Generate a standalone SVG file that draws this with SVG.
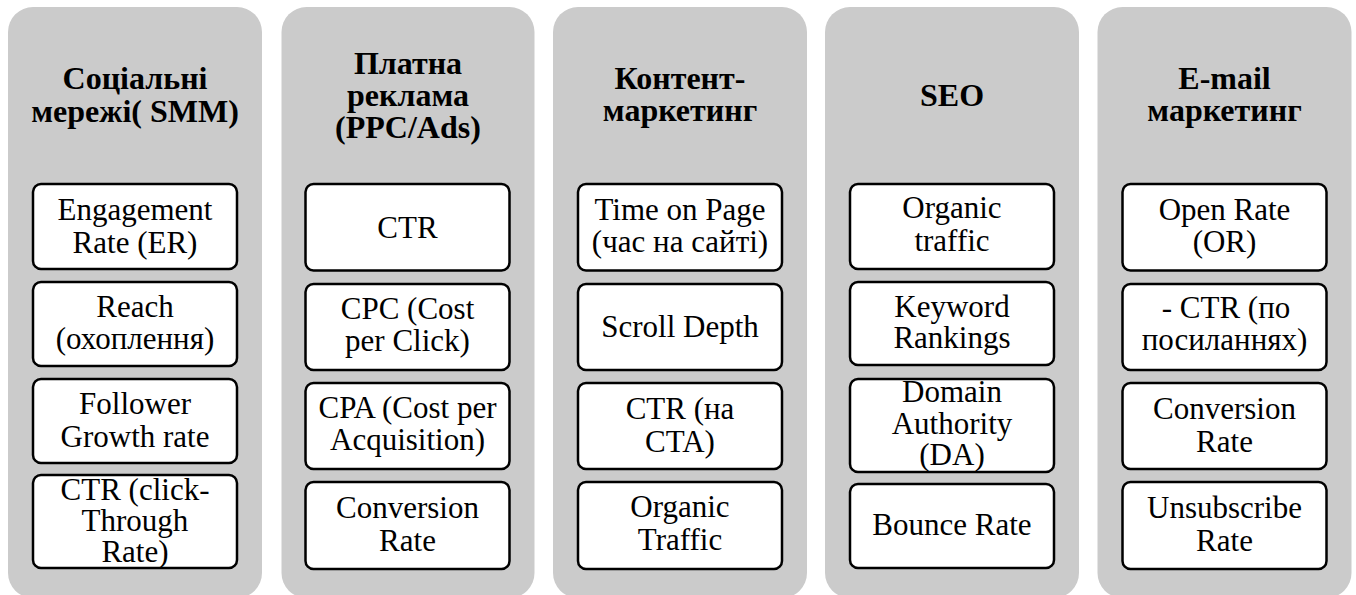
<svg xmlns="http://www.w3.org/2000/svg" width="1356" height="595" viewBox="0 0 1356 595">
<style>
.col{fill:#cbcbcb;}
.box{fill:#ffffff;stroke:#000000;stroke-width:2.5;}
.h{font-family:'Liberation Serif','Tinos','Times New Roman','Times','Nimbus Roman','Nimbus Roman No9 L','FreeSerif','Noto Serif','DejaVu Serif','Georgia',serif;font-weight:bold;font-size:32px;fill:#000;text-anchor:middle;}
.t{font-family:'Liberation Serif','Tinos','Times New Roman','Times','Nimbus Roman','Nimbus Roman No9 L','FreeSerif','Noto Serif','DejaVu Serif','Georgia',serif;font-size:31px;fill:#000;text-anchor:middle;}
</style>
<rect width="1356" height="595" fill="#ffffff"/>
<g id="connectors"/>

<g id="col-smm">
<rect class="col" x="8" y="7" width="254" height="591" rx="25"/>
<text class="h"><tspan x="135" y="89">Соціальні</tspan><tspan x="135" y="122">мережі( SMM)</tspan></text>
<g id="smm-er"><rect class="box" x="33" y="184" width="204" height="85" rx="8"/>
<text class="t"><tspan x="135" y="220">Engagement</tspan><tspan x="135" y="253">Rate (ER)</tspan></text></g>
<g id="smm-reach"><rect class="box" x="33" y="282" width="204" height="84" rx="8"/>
<text class="t"><tspan x="135" y="317">Reach</tspan><tspan x="135" y="349">(охоплення)</tspan></text></g>
<g id="smm-growth"><rect class="box" x="33" y="379" width="204" height="84" rx="8"/>
<text class="t"><tspan x="135" y="414">Follower</tspan><tspan x="135" y="446.5">Growth rate</tspan></text></g>
<g id="smm-ctr"><rect class="box" x="33" y="475" width="204" height="93" rx="8"/>
<text class="t"><tspan x="135" y="500">CTR (click-</tspan><tspan x="135" y="531">Through</tspan><tspan x="135" y="562">Rate)</tspan></text></g>
</g>

<g id="col-ppc">
<rect class="col" x="281.5" y="7" width="253" height="591" rx="25"/>
<text class="h"><tspan x="408" y="74">Платна</tspan><tspan x="408" y="106">реклама</tspan><tspan x="408" y="138">(PPC/Ads)</tspan></text>
<g id="ppc-ctr"><rect class="box" x="305.5" y="184" width="204" height="86.5" rx="8"/>
<text class="t"><tspan x="407.5" y="238">CTR</tspan></text></g>
<g id="ppc-cpc"><rect class="box" x="305.5" y="284" width="204" height="86" rx="8"/>
<text class="t"><tspan x="407.5" y="319">CPC (Cost</tspan><tspan x="407.5" y="351">per Click)</tspan></text></g>
<g id="ppc-cpa"><rect class="box" x="305.5" y="383" width="204" height="86" rx="8"/>
<text class="t"><tspan x="407.5" y="418">CPA (Cost per</tspan><tspan x="407.5" y="450">Acquisition)</tspan></text></g>
<g id="ppc-conv"><rect class="box" x="305.5" y="482" width="204" height="87" rx="8"/>
<text class="t"><tspan x="407.5" y="518">Conversion</tspan><tspan x="407.5" y="550.5">Rate</tspan></text></g>
</g>

<g id="col-content">
<rect class="col" x="553" y="7" width="254" height="591" rx="25"/>
<text class="h"><tspan x="680" y="89">Контент-</tspan><tspan x="680" y="121">маркетинг</tspan></text>
<g id="content-time"><rect class="box" x="578" y="184" width="204" height="86.5" rx="8"/>
<text class="t"><tspan x="680" y="220">Time on Page</tspan><tspan x="680" y="251.5">(час на сайті)</tspan></text></g>
<g id="content-scroll"><rect class="box" x="578" y="284" width="204" height="86" rx="8"/>
<text class="t"><tspan x="680" y="336.5">Scroll Depth</tspan></text></g>
<g id="content-ctr"><rect class="box" x="578" y="383" width="204" height="86" rx="8"/>
<text class="t"><tspan x="680" y="419">CTR (на</tspan><tspan x="680" y="451.5">CTA)</tspan></text></g>
<g id="content-organic"><rect class="box" x="578" y="482" width="204" height="87" rx="8"/>
<text class="t"><tspan x="680" y="516.5">Organic</tspan><tspan x="680" y="550">Traffic</tspan></text></g>
</g>

<g id="col-seo">
<rect class="col" x="825" y="7" width="254" height="591" rx="25"/>
<text class="h"><tspan x="952" y="106">SEO</tspan></text>
<g id="seo-organic"><rect class="box" x="850" y="184" width="204" height="85" rx="8"/>
<text class="t"><tspan x="952" y="218">Organic</tspan><tspan x="952" y="251">traffic</tspan></text></g>
<g id="seo-keyword"><rect class="box" x="850" y="282" width="204" height="83" rx="8"/>
<text class="t"><tspan x="952" y="316.5">Keyword</tspan><tspan x="952" y="348">Rankings</tspan></text></g>
<g id="seo-da"><rect class="box" x="850" y="379" width="204" height="93" rx="8"/>
<text class="t"><tspan x="952" y="402">Domain</tspan><tspan x="952" y="434">Authority</tspan><tspan x="952" y="465">(DA)</tspan></text></g>
<g id="seo-bounce"><rect class="box" x="850" y="484" width="204" height="84" rx="8"/>
<text class="t"><tspan x="952" y="535">Bounce Rate</tspan></text></g>
</g>

<g id="col-email">
<rect class="col" x="1097.5" y="7" width="254" height="591" rx="25"/>
<text class="h"><tspan x="1224.5" y="89">E-mail</tspan><tspan x="1224.5" y="121">маркетинг</tspan></text>
<g id="email-or"><rect class="box" x="1122.5" y="184" width="204" height="86.5" rx="8"/>
<text class="t"><tspan x="1224.5" y="220">Open Rate</tspan><tspan x="1224.5" y="251.5">(OR)</tspan></text></g>
<g id="email-ctr"><rect class="box" x="1122.5" y="284" width="204" height="86" rx="8"/>
<text class="t"><tspan x="1226" y="318">- CTR (по</tspan><tspan x="1224.5" y="350">посиланнях)</tspan></text></g>
<g id="email-conv"><rect class="box" x="1122.5" y="383" width="204" height="86" rx="8"/>
<text class="t"><tspan x="1224.5" y="419">Conversion</tspan><tspan x="1224.5" y="451.5">Rate</tspan></text></g>
<g id="email-unsub"><rect class="box" x="1122.5" y="482" width="204" height="87" rx="8"/>
<text class="t"><tspan x="1224.5" y="518">Unsubscribe</tspan><tspan x="1224.5" y="550.5">Rate</tspan></text></g>
</g>
</svg>
